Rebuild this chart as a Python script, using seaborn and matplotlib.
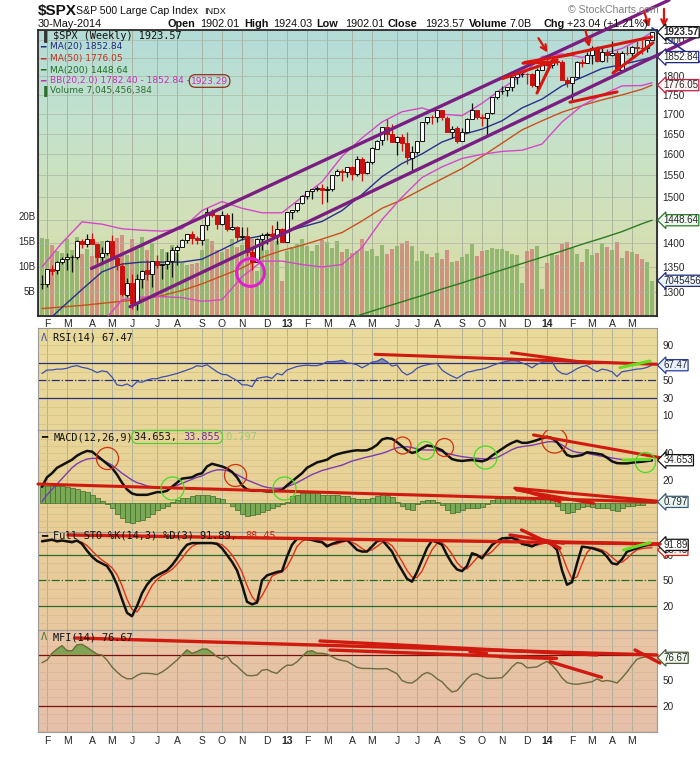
import numpy as np
import pandas as pd
import matplotlib
matplotlib.use("Agg")
import matplotlib.pyplot as plt
import matplotlib.dates as mdates
from matplotlib.colors import LinearSegmentedColormap
from matplotlib.patches import FancyBboxPatch
from matplotlib.ticker import FixedLocator, NullLocator, NullFormatter, FuncFormatter
import seaborn as sns

# ---------------- data ($SPX weekly) ----------------
weeks = pd.date_range("2012-01-27", "2014-05-30", freq="W-FRI")

opens = [1315, 1316, 1345, 1343, 1361, 1366, 1370, 1371, 1404, 1397,
         1408, 1398, 1370, 1379, 1403, 1369, 1353, 1295, 1318, 1278,
         1326, 1343, 1335, 1362, 1355, 1357, 1363, 1386, 1391, 1406,
         1418, 1411, 1407, 1438, 1466, 1460, 1441, 1461, 1429, 1433,
         1412, 1414, 1380, 1360, 1409, 1416, 1418, 1414, 1430, 1402,
         1466, 1472, 1486, 1503, 1513, 1518, 1520, 1516, 1518, 1551,
         1561, 1557, 1569, 1553, 1589, 1555, 1582, 1614, 1634, 1667,
         1650, 1631, 1643, 1627, 1592, 1606, 1632, 1680, 1692, 1692,
         1710, 1691, 1656, 1664, 1633, 1655, 1688, 1710, 1692, 1691,
         1703, 1745, 1760, 1762, 1771, 1798, 1805, 1806, 1805, 1775,
         1818, 1841, 1831, 1842, 1839, 1790, 1783, 1797, 1839, 1836,
         1859, 1878, 1841, 1867, 1858, 1865, 1816, 1865, 1863, 1881,
         1878, 1878, 1902.01]
highs = [1333, 1346, 1354, 1363, 1371, 1378, 1375, 1406, 1409, 1419,
         1422, 1398, 1392, 1406, 1416, 1370, 1359, 1328, 1335, 1335,
         1343, 1364, 1362, 1375, 1357, 1380, 1391, 1395, 1409, 1419,
         1426, 1414, 1438, 1475, 1474, 1461, 1470, 1465, 1465, 1435,
         1434, 1434, 1388, 1410, 1421, 1424, 1439, 1448, 1431, 1467,
         1472, 1486, 1504, 1514, 1518, 1525, 1530, 1526, 1552, 1564,
         1564, 1570, 1573, 1597, 1594, 1585, 1618, 1636, 1668, 1687,
         1674, 1646, 1649, 1654, 1620, 1632, 1680, 1693, 1698, 1710,
         1710, 1694, 1669, 1669, 1665, 1689, 1730, 1711, 1700, 1703,
         1745, 1760, 1775, 1771, 1798, 1806, 1813, 1810, 1809, 1823,
         1844, 1849, 1843, 1851, 1844, 1799, 1798, 1841, 1847, 1867,
         1883, 1884, 1884, 1875, 1897, 1873, 1869, 1885, 1885, 1897,
         1902, 1901, 1924.03]
lows = [1306, 1310, 1334, 1336, 1356, 1344, 1340, 1366, 1389, 1392,
        1397, 1358, 1358, 1375, 1368, 1343, 1292, 1291, 1267, 1266,
        1307, 1324, 1309, 1347, 1326, 1346, 1329, 1354, 1391, 1399,
        1398, 1397, 1396, 1428, 1455, 1430, 1439, 1425, 1428, 1403,
        1407, 1373, 1343, 1360, 1385, 1398, 1412, 1398, 1401, 1402,
        1451, 1466, 1484, 1496, 1495, 1514, 1485, 1488, 1514, 1548,
        1538, 1546, 1539, 1549, 1537, 1553, 1577, 1614, 1623, 1636,
        1629, 1599, 1608, 1577, 1560, 1601, 1632, 1676, 1676, 1679,
        1684, 1654, 1640, 1627, 1633, 1655, 1687, 1687, 1670, 1646,
        1700, 1740, 1753, 1746, 1761, 1780, 1797, 1779, 1772, 1767,
        1818, 1827, 1823, 1830, 1790, 1771, 1737, 1795, 1824, 1836,
        1834, 1840, 1839, 1839, 1856, 1814, 1816, 1859, 1851, 1862,
        1862, 1868, 1902.01]
closes = [1316.3, 1344.9, 1342.6, 1361.2, 1365.7, 1369.6, 1370.9, 1404.2, 1397.1, 1408.5,
          1398.1, 1370.3, 1378.5, 1403.4, 1369.1, 1353.4, 1295.2, 1317.8, 1278.0, 1325.7,
          1342.8, 1335.0, 1362.2, 1354.7, 1356.8, 1362.7, 1386.0, 1391.0, 1405.9, 1418.2,
          1411.1, 1406.6, 1437.9, 1465.8, 1460.2, 1440.7, 1460.9, 1428.6, 1433.2, 1411.9,
          1414.2, 1379.9, 1359.9, 1409.2, 1416.2, 1418.1, 1413.6, 1430.2, 1402.4, 1466.5,
          1472.1, 1486.0, 1503.0, 1513.2, 1517.9, 1519.8, 1515.6, 1518.2, 1551.2, 1560.7,
          1556.9, 1569.2, 1553.3, 1588.9, 1555.3, 1582.2, 1614.4, 1633.7, 1667.5, 1649.6,
          1630.7, 1643.4, 1626.7, 1592.4, 1606.3, 1631.9, 1680.2, 1692.1, 1691.7, 1709.7,
          1691.4, 1655.8, 1663.5, 1633.0, 1655.2, 1688.0, 1709.9, 1691.8, 1690.5, 1703.2,
          1744.5, 1759.8, 1761.6, 1770.6, 1798.2, 1804.8, 1805.8, 1805.1, 1775.3, 1818.3,
          1841.4, 1831.4, 1842.4, 1838.7, 1790.3, 1782.6, 1797.0, 1838.6, 1836.3, 1859.5,
          1878.0, 1841.1, 1866.5, 1857.6, 1865.1, 1815.7, 1864.9, 1863.4, 1881.1, 1878.5,
          1877.9, 1900.5, 1923.57]
volume_b = [15.6, 15.5, 14.3, 13.0, 12.6, 15.4, 13.2, 15.8, 12.5, 13.4,
            12.0, 14.9, 15.0, 13.4, 14.3, 15.6, 16.3, 12.2, 15.5, 13.4,
            15.8, 13.2, 14.6, 10.9, 13.5, 12.8, 14.2, 12.6, 10.7, 10.2,
            10.5, 10.6, 13.3, 15.5, 15.0, 13.2, 12.8, 13.4, 15.5, 13.9,
            14.3, 15.3, 15.4, 9.0, 15.6, 13.2, 15.5, 15.0, 7.0, 13.1,
            13.8, 14.4, 15.5, 14.0, 13.0, 14.2, 15.2, 14.8, 13.6, 15.0,
            12.8, 13.5, 12.6, 13.0, 15.5, 13.1, 13.5, 12.0, 14.2, 12.4,
            13.5, 14.0, 14.6, 15.0, 14.0, 11.0, 13.0, 12.4, 11.8, 12.6,
            11.5, 13.2, 10.8, 11.0, 11.9, 12.5, 14.5, 12.0, 13.1, 13.3,
            13.7, 13.4, 13.5, 13.0, 12.4, 12.2, 6.6, 13.1, 13.4, 14.0,
            5.5, 10.6, 12.7, 12.3, 14.5, 14.8, 13.6, 12.4, 10.8, 13.4,
            12.3, 12.7, 14.6, 13.8, 13.3, 14.8, 11.6, 13.0, 12.8, 12.4,
            11.5, 10.8, 7.05]

# moving averages / bands sampled every 4 weeks (week index)
ma_idx = [0, 4, 8, 12, 16, 20, 24, 28, 32, 36, 40, 44, 48, 52, 56, 60,
          64, 68, 72, 76, 80, 84, 88, 92, 96, 100, 104, 108, 112, 116, 120, 122]
ma20 = [1235, 1270, 1305, 1340, 1356, 1360, 1360, 1360, 1366, 1386, 1407, 1415, 1421, 1434, 1446, 1470,
        1506, 1547, 1578, 1601, 1630, 1648, 1662, 1683, 1716, 1739, 1774, 1797, 1821, 1832, 1845, 1852.84]
ma50 = [1268, 1271, 1274, 1278, 1282, 1286, 1293, 1303, 1316, 1332, 1348, 1370, 1384, 1395, 1408, 1422,
        1447, 1475, 1494, 1518, 1542, 1566, 1595, 1627, 1660, 1683, 1705, 1722, 1737, 1750, 1765, 1776.05]
bb_upper = [1350, 1400, 1445, 1440, 1430, 1427, 1425, 1430, 1470, 1490, 1475, 1465, 1465, 1500, 1535, 1595,
            1640, 1680, 1706, 1716, 1700, 1696, 1728, 1767, 1803, 1854, 1862, 1852, 1862, 1877, 1906, 1923.29]
bb_lower = [1130, 1140, 1160, 1240, 1285, 1290, 1291, 1289, 1282, 1285, 1330, 1362, 1362, 1355, 1350, 1355,
            1390, 1450, 1500, 1545, 1570, 1590, 1600, 1607, 1610, 1625, 1680, 1722, 1750, 1774, 1775, 1782.40]
ma200_idx = [56, 60, 64, 68, 72, 76, 80, 84, 88, 92, 96, 100, 104, 108, 112, 116, 120, 122]
ma200 = [1233, 1245, 1257, 1269, 1281, 1293, 1306, 1318, 1331, 1344, 1357, 1370, 1383, 1397, 1410, 1424,
         1441, 1448.64]

rsi = [58, 62, 62, 63, 63, 64, 66, 67, 65, 64,
       62, 59, 61, 60, 54, 45, 44, 46, 42.9, 48.6,
       48, 50.5, 52, 52, 54, 55, 56.5, 58, 60, 62,
       64, 67, 66, 68, 64, 60, 57, 56.5, 53, 50,
       45, 45, 42.9, 52.4, 53.5, 54.3, 52.4, 58, 56.3, 62,
       64, 66, 67, 67.5, 67, 67, 68.4, 71.5, 71.5, 72,
       73, 70, 69.5, 68, 64.5, 67.5, 71, 72, 75, 71.5,
       66.5, 67.7, 60, 56.3, 59, 64, 66.5, 68, 69, 69.6,
       62, 58, 55, 52.4, 56, 59.5, 60.5, 62, 63, 64.6,
       67, 69, 70.7, 72, 73.4, 72.5, 70, 68, 64.5, 68.5,
       70.7, 72, 71.5, 62, 58, 57, 60, 63.5, 66, 67,
       63, 60, 63, 62, 60, 54.5, 60, 61, 62, 63,
       63.5, 65, 67.47]
macd = [15, 22, 25, 29, 31, 33, 35, 38, 40, 41.5,
        41, 38, 35, 32, 29, 24, 18, 13, 10, 9,
        9, 9, 10, 11, 11, 12, 15, 18, 21, 21.5,
        22, 24, 25, 30, 32, 31, 30, 28.5, 26, 22,
        16, 13, 12, 12, 12, 11.5, 11.5, 12, 12.6, 16,
        19, 22, 25, 29, 31, 33, 34, 35, 37.5, 39,
        40, 40.8, 41.5, 42, 41.8, 42, 43.5, 46, 50, 51,
        50.5, 48, 45, 42, 40, 41, 43.5, 45.5, 45, 43.5,
        42, 38.5, 35.5, 34.5, 34.1, 34.5, 34.8, 34.3, 33.8, 35,
        38, 40.5, 43, 45.5, 47.5, 49, 47.5, 47.5, 48.4, 49.5,
        50.8, 52, 51, 48, 43.5, 38.5, 37.3, 37.8, 38.5, 40.5,
        40, 39.5, 38.8, 36.5, 33.8, 32.5, 32.3, 32.3, 32.8, 33.2,
        33.5, 34, 34.653]
macd_signal = [4, 9, 13, 17, 21, 25, 29, 32, 34, 35.5,
               36, 36, 35, 33, 31, 28, 25, 22.5, 20, 18,
               17, 15.5, 15, 14, 14, 14, 15, 16, 17.5, 19,
               20.5, 22, 23, 25, 26.5, 27.5, 27.5, 27, 25.5, 24,
               22, 20, 18.5, 17, 15.5, 14.5, 14, 13.8, 14, 15,
               16.5, 18, 20, 22, 24, 25.5, 27, 28, 29, 30,
               31, 32.5, 34, 35, 36, 37, 37.8, 38.8, 39.7, 41,
               42.5, 43.8, 44.3, 44.6, 44, 43, 42.3, 42.2, 42.2, 42,
               41, 39.8, 38.8, 38, 37.3, 36.8, 36.3, 36, 35.7, 35.5,
               35.8, 36.5, 38.5, 40.5, 42.5, 44, 44.7, 45.2, 45.7, 46.5,
               47.3, 48.2, 48.4, 47.8, 46, 43.5, 41.5, 40.5, 40, 39.7,
               39, 38.2, 37.5, 37, 36.3, 35.7, 35.2, 34.8, 34.5, 34.3,
               34.1, 34, 33.855]
macd_hist = [12.3, 12.3, 12.3, 12.3, 12.3, 11.5, 11, 10.5, 9, 8,
             6, 4, 1.5, -0.5, -4, -8, -11, -14, -14.5, -13.5,
             -12.5, -10.5, -8, -5.5, -3.5, -2, 1, 2.5, 3.5, 4,
             5, 6, 6, 6, 5, 4, 3, 0, -2.5, -5.5,
             -8, -10, -9, -8, -7, -5.5, -3.5, -2, -1, 1,
             5, 6, 7, 7.5, 7.5, 7, 6, 6, 6, 6,
             5.5, 5, 3.5, 3, 3, 3, 4, 5.5, 6.5, 6,
             4.5, 1, -2.5, -4.5, -5, -1, 1.5, 2.5, 2.5, 1,
             -1.5, -5, -7.4, -7, -5.5, -4, -4, -4, -3, -0.5,
             2, 3.5, 4.5, 5, 5, 4.5, 3, 2.5, 2.5, 3,
             3, 3, 2, -2, -5.5, -7.4, -6.5, -4.5, -3, -2,
             -3, -3.5, -3.5, -4, -5.5, -6, -4, -2.5, -2, -1.5,
             -1.5, 0.2, 0.797]
sto_k = [96, 97, 98, 96, 97, 96, 95, 97, 93, 85,
         78, 73, 70, 67, 58, 45, 28, 12, 8, 20,
         35, 45, 52, 56, 59, 62, 68, 76, 85, 92,
         94, 94, 94, 94, 94, 93, 88, 80, 72, 62,
         45, 25, 22, 24, 50, 56, 58, 60, 61, 78,
         92, 99, 99, 98.5, 97.6, 96, 95, 90, 93, 95,
         96.5, 97.5, 92, 86, 84, 84, 90, 96, 97.6, 91,
         84, 72, 62, 52, 48.6, 60, 74, 88, 97, 95,
         92, 80, 70, 63, 61, 67, 82, 80, 76, 84,
         91.8, 96, 99.5, 100, 100, 98, 93, 91.8, 90, 93,
         95.7, 95.7, 92, 86, 62, 45, 48, 70, 89.8, 89,
         88, 86, 84, 78, 70.2, 69, 75, 83.9, 86, 88,
         90, 91.5, 91.89]
sto_d = [97, 97, 97, 97, 97, 96.5, 96, 96, 95, 91,
         85, 79, 74, 70, 65, 57, 44, 28, 16, 13,
         21, 33, 44, 51, 56, 59, 63, 69, 76, 84,
         90, 93, 94, 94, 94, 94, 92, 87, 80, 71,
         60, 44, 31, 24, 32, 43, 55, 58, 60, 66,
         77, 90, 96, 99, 98, 97, 96, 92, 92, 93,
         95, 96.5, 95, 92, 87.5, 84.5, 86, 90, 94.5, 95,
         91, 82, 72.5, 62, 54, 53.5, 61, 74, 86, 93.5,
         94.5, 89, 81, 71, 65, 63.5, 70, 76.5, 79.5, 80,
         84, 90.5, 95.8, 98.5, 99.8, 99.3, 97, 94.3, 91.6, 91.6,
         92.9, 94.8, 94.5, 91.2, 80, 64.3, 51.7, 54.3, 69.3, 82.9,
         89, 87.7, 86, 82.7, 77.4, 72.4, 71.4, 76, 81.6, 86,
         87.5, 88.2, 88.45]
mfi = [71, 74, 82, 87, 91, 85, 85, 92, 92.5, 89,
       85, 81, 80, 74, 66, 60, 55, 52, 52, 56,
       58.4, 58.4, 58, 57, 60, 64, 69, 74, 80, 86,
       82, 84, 87, 87, 83, 78, 75, 79, 71, 67,
       61, 56, 55.6, 56.4, 62, 63, 60, 58.4, 64, 68,
       68, 72, 78, 84, 85, 82, 82, 81, 78, 75,
       73.5, 72.5, 69, 65.5, 64.2, 64.2, 64, 63.7, 63.8, 64,
       61, 58, 50, 47.5, 47, 51, 56.5, 59.5, 57, 52,
       48.5, 42, 36.5, 38, 45, 52, 57, 58, 55, 52.5,
       52.5, 52.8, 53.3, 59, 66, 71, 70, 65, 65.3, 66,
       69.5, 72.5, 68, 61.5, 53, 47.5, 46, 45.5, 46.5, 47.5,
       48.5, 52, 49, 50, 49, 47, 53, 60, 68, 75,
       77, 78, 76.67]

# hand-drawn markup on the chart: (week index, value) end points
price_channels = [((9.9, 1347), (125.4, 2019)), ((17.6, 1271.5), (131.6, 1916))]
price_red_lines = [((92.2, 1794), (103, 1845)), ((96.2, 1836), (103, 1839)),
                   ((96.6, 1838), (106.3, 1861)), ((105, 1859), (122, 1910)),
                   ((105.6, 1731), (115, 1758)), ((114.2, 1809), (122.2, 1893)),
                   ((99, 1755), (102.2, 1845))]
price_arrows = [((99, 1913), (101.4, 1859)), ((108.6, 1936), (109.6, 1873)),
                ((120.2, 1995), (121.6, 1930)), ((124.4, 2001), (124.4, 1930))]
price_navy_lines = [((122, 1936), (131.6, 1839))]
price_circle = (41.6, 1340)
rsi_red_lines = [((66.6, 79.9), (122.9, 68.5)), ((93.9, 81.8), (109.6, 69.7))]
rsi_green_lines = [((115.6, 64.6), (121.6, 72.3))]
macd_red_lines = [((-0.8, 17), (123, 3.7)), ((94.6, 13.9), (122.9, 4.4)),
                  ((98.3, 53.3), (124.3, 36.1)), ((94.6, 13.9), (103.6, 3.9)),
                  ((94.9, 12.6), (110.3, 2.7))]
macd_green_lines = [((116.3, 34.8), (121.6, 35.3))]
macd_red_circles = [(12.9, 36, 22), (38.6, 23.7, 22), (71.9, 45.9, 17), (80.3, 44.7, 18), (102.3, 49.6, 25)]
macd_green_circles = [(25.9, 13.8, 23), (48.3, 13.8, 23), (76.6, 42.2, 18), (88.6, 37.3, 23), (120.6, 33.6, 20)]
sto_red_lines = [((5.2, 103.5), (123, 92.9)), ((95.9, 109.4), (103.6, 87.9)),
                 ((100.9, 95.6), (123.6, 92.9)), ((93.6, 103.5), (104.3, 93.8))]
sto_green_lines = [((116.3, 85.9), (121.6, 94.5))]
mfi_red_lines = [((6.6, 100), (123, 80)), ((55.6, 96.5), (111, 80)), ((57.6, 85.9), (102.9, 76.1)),
                 ((101.6, 72.1), (111.9, 53.8)), ((118.6, 85.9), (123.6, 70.5)),
                 ((85.6, 83.9), (88.9, 82)), ((91.6, 78), (102.2, 76.1))]

price_grid = [1300, 1350, 1400, 1450, 1500, 1550, 1600, 1650, 1700, 1750, 1800, 1850, 1900]
price_ticks = [1300, 1350, 1400, 1500, 1550, 1600, 1650, 1700, 1750, 1800, 1900]

# ---------------- drawing ----------------
sns.set_theme(style="white")
plt.rcParams["font.family"] = ["Liberation Sans", "DejaVu Sans"]

W, H = 700, 759
fig = plt.figure(figsize=(W / 100, H / 100), dpi=100)


def box(x0, y0, x1, y1):
    return [x0 / W, 1 - y1 / H, (x1 - x0) / W, (y1 - y0) / H]


def fxy(x, y):
    return x / W, 1 - y / H


x0 = mdates.date2num(weeks[0])
xd = mdates.date2num(weeks)
opens, highs, lows, closes = map(np.asarray, (opens, highs, lows, closes))
volume_b = np.asarray(volume_b)
rsi, macd, macd_signal, macd_hist = map(np.asarray, (rsi, macd, macd_signal, macd_hist))
sto_k, sto_d, mfi = map(np.asarray, (sto_k, sto_d, mfi))


def kx(k):
    return x0 + 7.0 * k


xlim = (kx(-0.8), kx(123))

ax_vol = fig.add_axes(box(38, 30, 657, 316))
ax_px = ax_vol.twinx()
ax_rsi = fig.add_axes(box(38, 328, 657, 430))
ax_macd = fig.add_axes(box(38, 430, 657, 532))
ax_sto = fig.add_axes(box(38, 532, 657, 630))
ax_mfi = fig.add_axes(box(38, 630, 657, 732))
panels = [ax_vol, ax_rsi, ax_macd, ax_sto, ax_mfi]


def paint(ax, colors):
    cmap = LinearSegmentedColormap.from_list("bg", colors)
    grad = np.linspace(0, 1, 256).reshape(-1, 1)
    ax.imshow(grad, cmap=cmap, aspect="auto", extent=(0, 1, 0, 1),
              transform=ax.transAxes, origin="lower", zorder=0)


paint(ax_vol, ["#dcdaa0", "#d2e0b8", "#c4e2cc", "#b3dcd8"])
paint(ax_rsi, ["#e8d598", "#eadb9c"])
paint(ax_macd, ["#e8ce96", "#e9d598"])
paint(ax_sto, ["#e9c8a0", "#e8ce98"])
paint(ax_mfi, ["#e6c0aa", "#e9c6a4"])

month_idx = [i for i in range(1, len(weeks)) if weeks[i].month != weeks[i - 1].month]
month_x = xd[month_idx]
month_lab = [("%02d" % (weeks[i].year % 100)) if weeks[i].month == 1 else weeks[i].strftime("%b")[0]
             for i in month_idx]

for ax in panels:
    for mx in month_x:
        ax.axvline(mx, color="#a7ad9c", lw=0.6, zorder=1)
    for s in ax.spines.values():
        s.set_color("#9a9a9a")
        s.set_linewidth(0.8)

# ---- price panel ----
up_vol = np.r_[True, closes[1:] >= closes[:-1]]
ax_vol.bar(xd, volume_b, width=5.6, color=np.where(up_vol, "#8db46c", "#cf8a7e"),
           alpha=0.9, lw=0, zorder=2)
ax_vol.set_ylim(0, 57.2)
ax_vol.set_yticks([5, 10, 15, 20])
ax_vol.set_yticklabels(["5B", "10B", "15B", "20B"])
ax_vol.tick_params(axis="y", left=True, labelleft=True, length=0, pad=2, labelsize=7)

ax_px.set_yscale("log")
for p in price_grid:
    ax_px.axhline(p, color="#a9b8a4", lw=0.5, zorder=0)

sns.lineplot(x=xd[ma200_idx], y=ma200, ax=ax_px, color="#2a7a24", lw=1.0, zorder=3)
sns.lineplot(x=xd[ma_idx], y=ma50, ax=ax_px, color="#c8501e", lw=1.0, zorder=3)
sns.lineplot(x=xd[ma_idx], y=bb_upper, ax=ax_px, color="#d448c8", lw=1.0, zorder=3)
sns.lineplot(x=xd[ma_idx], y=bb_lower, ax=ax_px, color="#d448c8", lw=1.0, zorder=3)
sns.lineplot(x=xd[ma_idx], y=ma20, ax=ax_px, color="#2a2e8c", lw=1.0, zorder=3)

down = closes < opens
wick = np.where(down, "#cc1010", "#111111")
ax_px.vlines(xd, lows, highs, colors=wick, lw=0.9, zorder=4)
body_lo = np.minimum(opens, closes)
body_h = np.maximum(np.abs(closes - opens), 1.5)
ax_px.bar(xd, body_h, bottom=body_lo, width=4.4, color=np.where(down, "#cc1010", "white"),
          edgecolor=np.where(down, "#cc1010", "#111111"), lw=0.7, zorder=5)


def draw_segments(ax, segs, color, lw, z=7):
    for (ka, va), (kb, vb) in segs:
        ax.plot([kx(ka), kx(kb)], [va, vb], color=color, lw=lw, solid_capstyle="round",
                clip_on=False, zorder=z)


draw_segments(ax_px, price_channels, "#7a1e82", 2.4, 6)
draw_segments(ax_px, price_navy_lines, "#26309a", 1.2)
draw_segments(ax_px, price_red_lines, "#d8150f", 2.2)
for (ka, va), (kb, vb) in price_arrows:
    ax_px.annotate("", xy=(kx(kb), vb), xytext=(kx(ka), va), annotation_clip=False,
                   arrowprops=dict(arrowstyle="->", color="#d8150f", lw=1.6, mutation_scale=10),
                   zorder=8)
ax_px.plot([kx(price_circle[0])], [price_circle[1]], marker="o", ms=20, mfc="none",
           mec="#e020d0", mew=2.2, zorder=8)

ax_px.set_ylim(1253.8, 1930)
ax_px.yaxis.set_major_locator(FixedLocator(price_ticks))
ax_px.yaxis.set_major_formatter(FuncFormatter(lambda v, _: "%d" % v))
ax_px.yaxis.set_minor_locator(NullLocator())
ax_px.yaxis.set_minor_formatter(NullFormatter())
ax_px.tick_params(axis="y", right=True, labelright=True, length=0, pad=4, labelsize=7.2)

ax_vol.set_xlim(*xlim)
ax_vol.set_xticks(month_x)
ax_vol.set_xticklabels(month_lab)
ax_vol.tick_params(axis="x", length=0, pad=2, labelsize=7.5)

# ---- RSI ----
for v in range(0, 110, 10):
    ax_rsi.axhline(v, color="#d3c287", lw=0.5, zorder=1)
ax_rsi.axhline(70, color="#2a2f7a", lw=0.9, zorder=2)
ax_rsi.axhline(30, color="#2a2f7a", lw=0.9, zorder=2)
ax_rsi.axhline(50, color="#2a2f7a", lw=0.9, ls="-.", zorder=2)
ax_rsi.fill_between(xd, rsi, 70, where=rsi > 70, interpolate=True, color="#3b4cb0", alpha=0.55,
                    lw=0, zorder=3)
sns.lineplot(x=xd, y=rsi, ax=ax_rsi, color="#3d4fb0", lw=0.9, zorder=4)
draw_segments(ax_rsi, rsi_red_lines, "#d01a10", 2.2)
draw_segments(ax_rsi, rsi_green_lines, "#66dd22", 2.2)
ax_rsi.set_ylim(-6.6, 110)
ax_rsi.set_yticks([10, 30, 50, 90])

# ---- MACD ----
hist_base = 3.0
for v in range(-15, 60, 5):
    ax_macd.axhline(v, color="#d3c287", lw=0.5, zorder=1)
ax_macd.bar(xd, macd_hist, bottom=hist_base, width=7.0, color="#79a955", edgecolor="#3f6b2a",
            lw=0.5, zorder=2)
sns.lineplot(x=xd, y=macd_signal, ax=ax_macd, color="#7a3cb0", lw=1.0, zorder=3)
sns.lineplot(x=xd, y=macd, ax=ax_macd, color="#111111", lw=1.8, zorder=4)
draw_segments(ax_macd, macd_red_lines, "#d01a10", 2.2)
draw_segments(ax_macd, macd_green_lines, "#66dd22", 2.2)
for k, v, d in macd_red_circles:
    ax_macd.plot([kx(k)], [v], marker="o", ms=d * 0.72, mfc="none", mec="#d03010", mew=0.9, zorder=8)
for k, v, d in macd_green_circles:
    ax_macd.plot([kx(k)], [v], marker="o", ms=d * 0.72, mfc="none", mec="#44dd22", mew=0.9, zorder=8)
ax_macd.set_ylim(-18.5, 57)
ax_macd.set_yticks([20, 40])

# ---- Full STO ----
for v in range(0, 110, 10):
    ax_sto.axhline(v, color="#d6bd8e", lw=0.5, zorder=1)
ax_sto.axhline(80, color="#2c6a2c", lw=0.9, zorder=2)
ax_sto.axhline(20, color="#2c6a2c", lw=0.9, zorder=2)
ax_sto.axhline(50, color="#2c6a2c", lw=0.9, ls="-.", zorder=2)
sns.lineplot(x=xd, y=sto_d, ax=ax_sto, color="#e0301a", lw=1.0, zorder=3)
sns.lineplot(x=xd, y=sto_k, ax=ax_sto, color="#111111", lw=1.8, zorder=4)
ax_sto.set_ylim(-8.2, 107)
ax_sto.set_yticks([20, 50, 80])

# ---- MFI ----
for v in range(-10, 110, 10):
    ax_mfi.axhline(v, color="#d6b69a", lw=0.5, zorder=1)
ax_mfi.axhline(80, color="#7a1010", lw=0.9, zorder=2)
ax_mfi.axhline(20, color="#7a1010", lw=0.9, zorder=2)
ax_mfi.fill_between(xd, mfi, 80, where=mfi > 80, interpolate=True, color="#6da046", alpha=0.85,
                    lw=0, zorder=3)
sns.lineplot(x=xd, y=mfi, ax=ax_mfi, color="#6b6b3c", lw=1.0, zorder=4)
draw_segments(ax_mfi, mfi_red_lines, "#d01a10", 2.4)
ax_mfi.set_ylim(-10.6, 109.4)
ax_mfi.set_yticks([20, 50])

for ax in [ax_rsi, ax_macd, ax_sto, ax_mfi]:
    ax.set_xlim(*xlim)
    ax.set_xticks(month_x)
    ax.yaxis.tick_right()
    ax.tick_params(axis="y", length=0, pad=4, labelsize=7.2)
    ax.tick_params(axis="x", length=0, labelbottom=False)
    ax.set_xlabel("")
    ax.set_ylabel("")
ax_mfi.set_xticklabels(month_lab)
ax_mfi.tick_params(axis="x", labelbottom=True, pad=3, labelsize=7.5)
for ax in [ax_vol, ax_mfi]:
    for t in ax.get_xticklabels():
        if t.get_text().isdigit():
            t.set_fontweight("bold")
for ax in [ax_vol, ax_px]:
    ax.set_xlabel("")
    ax.set_ylabel("")


# ---- value tags on the right edge ----
def tag(ax, value, text, ec, fc, bold=False, dy=0):
    ax.annotate(text, xy=(1.0, value), xycoords=("axes fraction", "data"),
                xytext=(4.5, dy), textcoords="offset points", va="center", ha="left",
                fontsize=7.0, fontweight="bold" if bold else "normal", annotation_clip=False,
                bbox=dict(boxstyle="larrow,pad=0.06", fc=fc, ec=ec, lw=0.9), zorder=9)


tag(ax_px, 1923.57, "1923.57", "#111111", "white", True)
tag(ax_px, 1852.84, "1852.84", "#1f2a80", "white")
tag(ax_px, 1776.05, "1776.05", "#c02040", "#fff4f4")
tag(ax_px, 1448.64, "1448.64", "#2a7a24", "#eef8ee")
tag(ax_vol, 7.045, "7045456", "#1f2a80", "#eef4ff")
tag(ax_rsi, 67.47, "67.47", "#2a3a9a", "#e8f2ff")
tag(ax_macd, 34.653, "34.653", "#111111", "white")
tag(ax_macd, hist_base + 0.797, "0.797", "#3a5a7a", "#e8f4f0")
tag(ax_sto, 88.45, "88.45", "#d02010", "#fff0ee", dy=-1.5)
tag(ax_sto, 91.89, "91.89", "#111111", "white")
tag(ax_mfi, 76.67, "76.67", "#4a5a3a", "#eef8ee")


# ---- header and legends ----
def txt(x, y, s, size=7.0, color="#111111", weight="normal", family=None, **kw):
    fam = family if family else ["Liberation Sans", "DejaVu Sans"]
    return fig.text(*fxy(x, y), s, fontsize=size, color=color, fontweight=weight,
                    family=fam, va="center", ha="left", **kw)


txt(38, 11, "$SPX", 11, weight="bold")
txt(76, 11, "S&P 500 Large Cap Index", 7.6)
txt(204, 11, "INDX", 6.6)
txt(568, 10, "\u00a9 StockCharts.com", 7.6, color="#808080")
txt(38, 24, "30-May-2014", 7.8)
for x, s, w in [(168, "Open", "bold"), (200, "1902.01", "normal"), (244, "High", "bold"),
                (273, "1924.03", "normal"), (316, "Low", "bold"), (345, "1902.01", "normal"),
                (388, "Close", "bold"), (425, "1923.57", "normal"), (469, "Volume", "bold"),
                (510, "7.0B", "normal"), (543, "Chg", "bold"), (567, "+23.04 (+1.21%)", "normal")]:
    txt(x, 24, s, 7.8, weight=w)

MONO = "DejaVu Sans Mono"
CW = 7.4 * 0.6021 / 72 * 100


def mono_run(x, y, parts, size=7.4):
    for s, c in parts:
        txt(x, y, s, size, color=c, family=MONO, zorder=10)
        x += len(s) * CW
    return x


mono_run(41, 36, [("\u2590 ", "#333333"), ("$SPX (Weekly) 1923.57", "#111111")])
for y, s, c in [(47, "MA(20) 1852.84", "#1f2a80"), (59, "MA(50) 1776.05", "#c0301e"),
                (70, "MA(200) 1448.64", "#1f6e1f")]:
    txt(40, y, "\u2501", 6.5, color=c)
    txt(50, y, s, 6.5, color=c, family="DejaVu Sans")
txt(40, 81, "\u2501", 6.5, color="#c830b8")
txt(50, 81, "BB(20,2.0) 1782.40 - 1852.84 -", 6.5, color="#c830b8", family="DejaVu Sans")
txt(191, 81, "1923.29", 6.5, color="#c830b8", family="DejaVu Sans",
    bbox=dict(boxstyle="round,pad=0.2,rounding_size=0.7", fc="none", ec="#8a3418", lw=0.9))
txt(41, 91, "\u2590", 6.5, color="#2e6e2e")
txt(50, 91, "Volume 7,045,456,384", 6.5, color="#2e6e2e", family="DejaVu Sans")

mono_run(41, 338, [("\u039b ", "#3d4fb0"), ("RSI(14) 67.47", "#111111")])
xs = mono_run(41, 437, [("\u2501 ", "#111111"), ("MACD(12,26,9)", "#111111")])
bw = len("34.653, 33.855") * CW + 4
fig.patches.append(FancyBboxPatch(((xs - 2) / W, 1 - 443.5 / H), bw / W, 13 / H,
                                  boxstyle="round,pad=0,rounding_size=0.008",
                                  transform=fig.transFigure, fc="none", ec="#55cc33", lw=0.9))
mono_run(xs, 437, [("34.653, ", "#111111"), ("33.855", "#6a2c9a"), (",0.797", "#9ccc7a")])
mono_run(41, 536, [("\u2501 ", "#111111"), ("Full STO %K(14,3) %D(3) 91.89, ", "#111111"),
                   ("88.45", "#d02010")])
mono_run(41, 637, [("\u039b ", "#4a7a2a"), ("MFI(14) 76.67", "#111111")])

# red markup drawn through the STO legend (placed last so it lies on top)
draw_segments(ax_sto, sto_red_lines, "#d01a10", 2.4, 11)
draw_segments(ax_sto, sto_green_lines, "#66dd22", 2.2, 11)

fig.savefig("out.png", dpi=100)
